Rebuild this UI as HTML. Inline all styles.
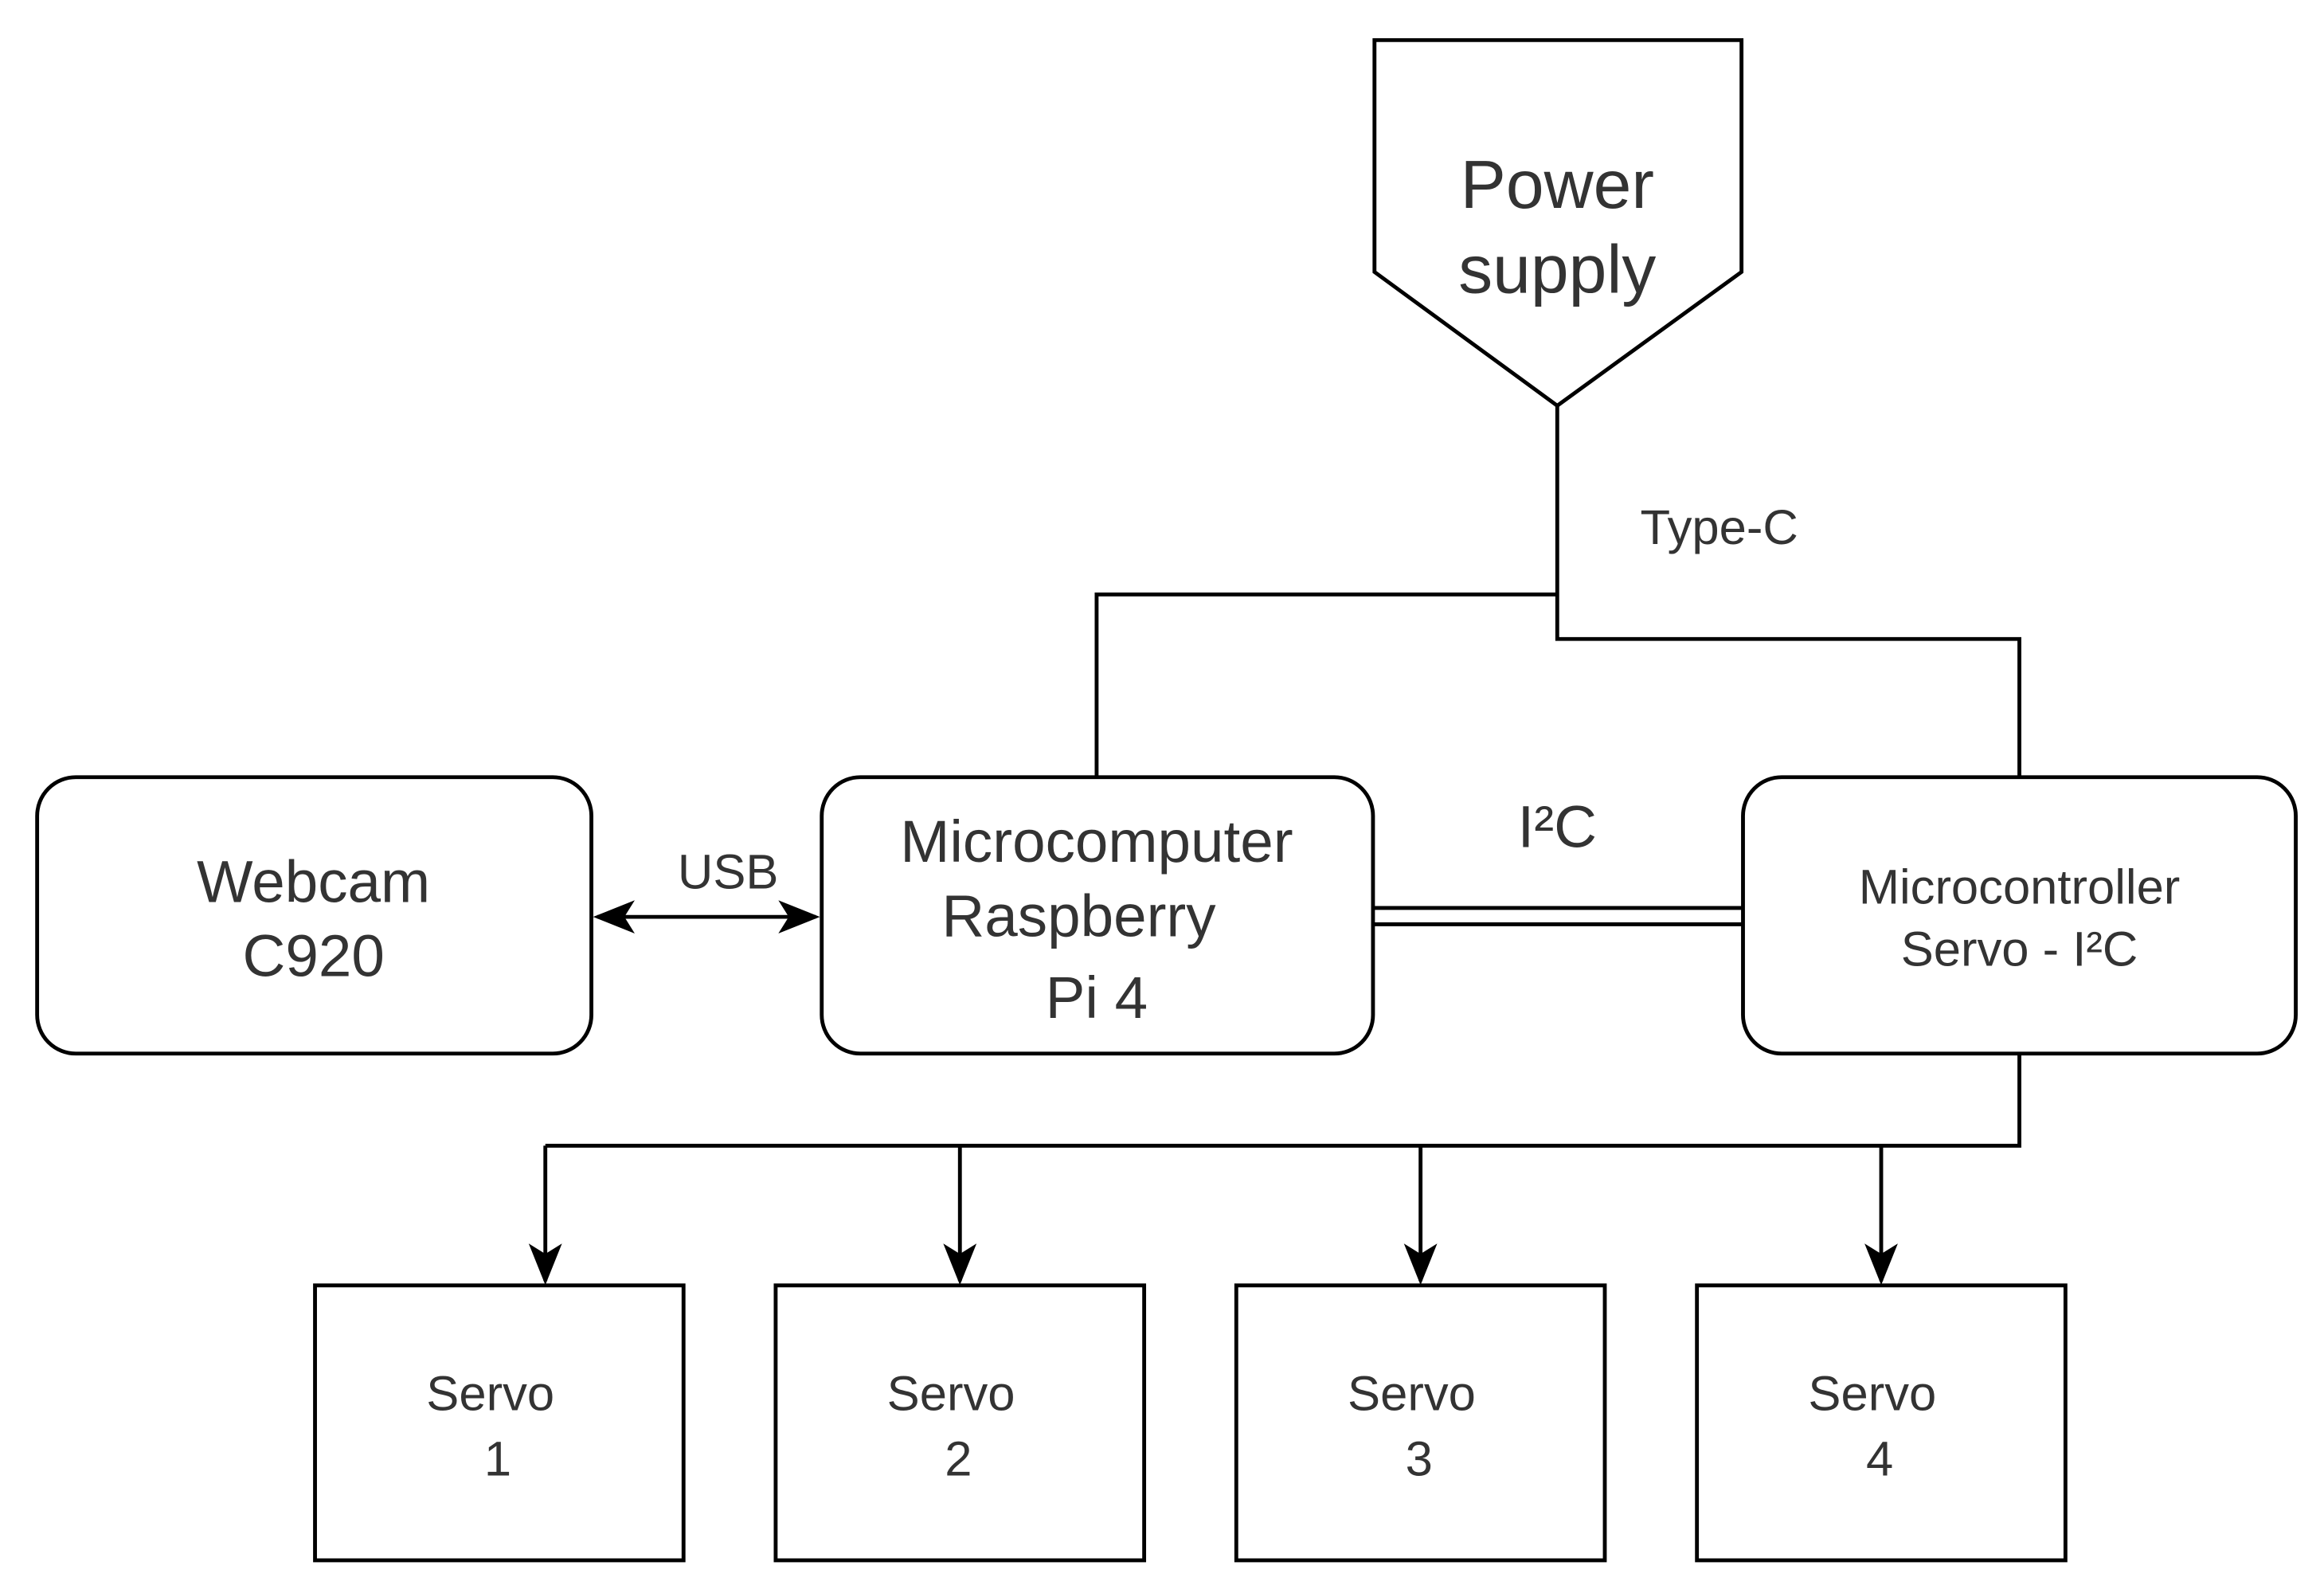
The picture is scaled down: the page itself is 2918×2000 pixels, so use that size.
<!DOCTYPE html>
<html><head><meta charset="utf-8"><style>
html,body{margin:0;padding:0;background:#fff}
svg{display:block}
text{font-family:"Liberation Sans",Arial,sans-serif;fill:#333;text-anchor:middle}
</style></head><body>
<svg width="2918" height="2000" viewBox="0 0 1564 1072" preserveAspectRatio="none" xmlns="http://www.w3.org/2000/svg">
<defs>
<marker id="b" viewBox="0 0 10 10" refX="9" refY="5" markerWidth="28" markerHeight="28" markerUnits="userSpaceOnUse" orient="auto-start-reverse">
<path d="M0,1 L10,5 L0,9 L2.5,5 z" fill="#000"/>
</marker>
</defs>
<g fill="none" stroke="#000" stroke-width="2.6">
<polygon points="925,27 1172,27 1172,183 1048,273 925,183" fill="#fff"/>
<polyline points="1048,273 1048,430 1359,430 1359,523"/>
<polyline points="1048,400 738,400 738,523"/>
<rect x="25" y="523" width="373" height="186" rx="26" fill="#fff"/>
<rect x="553" y="523" width="371" height="186" rx="26" fill="#fff"/>
<rect x="1173" y="523" width="372" height="186" rx="26" fill="#fff"/>
<line x1="924" y1="611" x2="1173" y2="611"/>
<line x1="924" y1="622" x2="1173" y2="622"/>
<line x1="402" y1="617" x2="549" y2="617" marker-start="url(#b)" marker-end="url(#b)"/>
<polyline points="1359,709 1359,771 367,771"/>
<line x1="367" y1="771" x2="367" y2="862" marker-end="url(#b)"/>
<line x1="646" y1="771" x2="646" y2="862" marker-end="url(#b)"/>
<line x1="956" y1="771" x2="956" y2="862" marker-end="url(#b)"/>
<line x1="1266" y1="771" x2="1266" y2="862" marker-end="url(#b)"/>
<rect x="212" y="865" width="248" height="185" fill="#fff"/>
<rect x="522" y="865" width="248" height="185" fill="#fff"/>
<rect x="832" y="865" width="248" height="185" fill="#fff"/>
<rect x="1142" y="865" width="248" height="185" fill="#fff"/>
</g>
<text x="1048" y="140" font-size="46">Power</text>
<text x="1048" y="197" font-size="46">supply</text>
<text x="1157" y="366" font-size="33">Type-C</text>
<text x="211" y="607" font-size="40">Webcam</text>
<text x="211" y="657" font-size="40">C920</text>
<text x="490" y="598" font-size="33">USB</text>
<text x="738" y="580" font-size="40">Microcomputer</text>
<text x="726" y="630" font-size="40">Raspberry</text>
<text x="738" y="685" font-size="40">Pi 4</text>
<text x="1048" y="570" font-size="40">I²C</text>
<text x="1359" y="608" font-size="33">Microcontroller</text>
<text x="1359" y="650" font-size="33">Servo - I²C</text>
<text x="330" y="949" font-size="33">Servo</text>
<text x="335" y="993" font-size="33">1</text>
<text x="640" y="949" font-size="33">Servo</text>
<text x="645" y="993" font-size="33">2</text>
<text x="950" y="949" font-size="33">Servo</text>
<text x="955" y="993" font-size="33">3</text>
<text x="1260" y="949" font-size="33">Servo</text>
<text x="1265" y="993" font-size="33">4</text>
</svg>
</body></html>
